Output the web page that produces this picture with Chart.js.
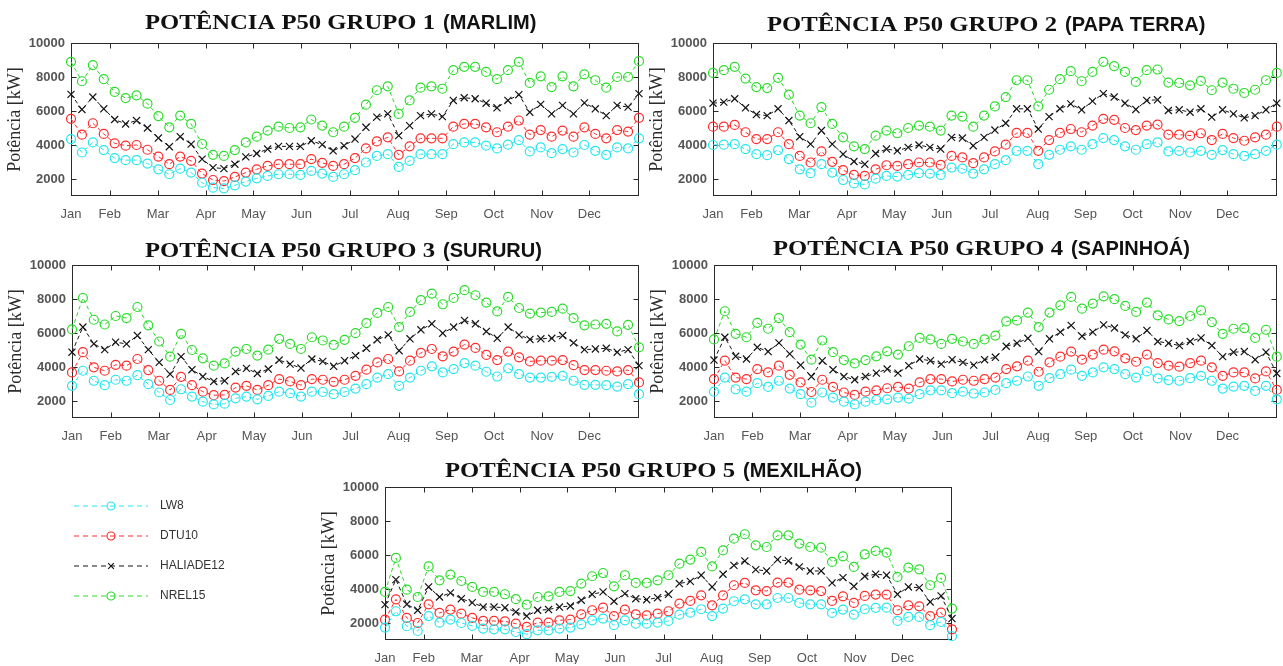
<!DOCTYPE html>
<html>
<head>
<meta charset="utf-8">
<script src="https://cdn.jsdelivr.net/npm/chart.js@4/dist/chart.umd.min.js"></script>
<style>
  body { margin: 0; background: #fff; }
  #wrap { position: relative; width: 1283px; height: 666px; overflow: hidden; }
  #wrap canvas { position: absolute; }
</style>
</head>
<body>
<div id="wrap">
  <canvas id="c1" width="650" height="225" style="left:0;top:0"></canvas>
  <canvas id="c2" width="641" height="225" style="left:642px;top:0"></canvas>
  <canvas id="c3" width="650" height="225" style="left:0;top:222px"></canvas>
  <canvas id="c4" width="640" height="225" style="left:643px;top:222px"></canvas>
  <canvas id="c5" width="960" height="222" style="left:0;top:444px"></canvas>
</div>
<script>
// ---- data (weekly P50 power, kW) ----
const months = ['Jan', 'Feb', 'Mar', 'Apr', 'May', 'Jun', 'Jul', 'Aug', 'Sep', 'Oct', 'Nov', 'Dec'];
const monthPos = [0, 3.55, 7.95, 12.35, 16.7, 21.1, 25.55, 29.95, 34.35, 38.7, 43.1, 47.45];
const yTicks = [2000, 4000, 6000, 8000, 10000];
const seriesNames = ['LW8', 'DTU10', 'HALIADE12', 'NREL15'];

// Grupo 1 (Marlim)
const lw8_g1 = [4350, 3560, 4150, 3700, 3230, 3110, 3110, 2910, 2570, 2280, 2610, 2380, 1780, 1490, 1450, 1630, 1850, 2040, 2180, 2280, 2280, 2240, 2480, 2320, 2120, 2280, 2520, 2970, 3360, 3460, 2710, 3070, 3460, 3460, 3460, 4050, 4150, 4150, 3960, 3800, 4020, 4290, 3620, 3860, 3520, 3760, 3560, 4000, 3660, 3420, 3860, 3800, 4390];
const dtu10_g1 = [5540, 4610, 5280, 4650, 4100, 3960, 4000, 3720, 3320, 2870, 3320, 3070, 2320, 1940, 1880, 2120, 2380, 2570, 2770, 2870, 2870, 2870, 3170, 2950, 2770, 2870, 3230, 3800, 4210, 4450, 3420, 3920, 4390, 4390, 4390, 5080, 5240, 5240, 5040, 4750, 5080, 5440, 4610, 4880, 4490, 4850, 4490, 5040, 4650, 4390, 4880, 4790, 5600];
const hal12_g1 = [6980, 6090, 6820, 6130, 5500, 5240, 5440, 5000, 4410, 3900, 4490, 4050, 3170, 2670, 2610, 2870, 3300, 3500, 3760, 3920, 3920, 3920, 4250, 4020, 3660, 3960, 4350, 5040, 5640, 5830, 4550, 5140, 5730, 5830, 5670, 6620, 6780, 6720, 6460, 6190, 6620, 6960, 5930, 6390, 5830, 6330, 5830, 6480, 6130, 5730, 6330, 6230, 7020];
const nrel15_g1 = [8890, 7750, 8700, 7870, 7120, 6760, 6920, 6430, 5700, 5040, 5730, 5240, 4060, 3420, 3360, 3700, 4150, 4490, 4850, 5080, 5000, 5040, 5500, 5140, 4750, 5080, 5600, 6370, 7220, 7450, 5830, 6620, 7370, 7450, 7310, 8400, 8600, 8600, 8300, 7870, 8400, 8890, 7650, 8040, 7410, 8040, 7450, 8160, 7810, 7370, 8000, 8000, 8930];

// Grupo 2 (Papa Terra)
const lw8_g2 = [4000, 4020, 4050, 3760, 3460, 3400, 3700, 3170, 2570, 2340, 2870, 2380, 1940, 1740, 1680, 2020, 2180, 2140, 2240, 2340, 2320, 2240, 2670, 2610, 2320, 2570, 2870, 3110, 3660, 3660, 2870, 3420, 3720, 3920, 3720, 4050, 4410, 4290, 3920, 3720, 4050, 4150, 3620, 3660, 3560, 3660, 3420, 3700, 3460, 3360, 3460, 3660, 4020];
const dtu10_g2 = [5080, 5080, 5180, 4750, 4350, 4350, 4750, 4050, 3360, 2970, 3620, 3010, 2520, 2240, 2180, 2570, 2810, 2770, 2870, 2970, 2970, 2830, 3360, 3270, 2930, 3270, 3620, 4020, 4710, 4710, 3660, 4290, 4710, 4940, 4750, 5140, 5540, 5480, 5000, 4880, 5140, 5200, 4610, 4610, 4550, 4690, 4290, 4650, 4410, 4250, 4450, 4610, 5080];
const hal12_g2 = [6460, 6520, 6720, 6190, 5790, 5730, 6130, 5440, 4490, 4050, 4850, 4050, 3460, 3030, 2870, 3500, 3760, 3660, 3860, 4000, 3860, 3760, 4450, 4410, 3960, 4450, 4880, 5280, 6130, 6130, 4940, 5670, 6130, 6420, 6070, 6580, 7020, 6820, 6460, 6090, 6620, 6660, 6030, 6070, 5930, 6130, 5640, 6070, 5830, 5600, 5730, 6070, 6460];
const nrel15_g2 = [8240, 8400, 8600, 7910, 7410, 7350, 7950, 6960, 5730, 5280, 6230, 5240, 4450, 3920, 3760, 4550, 4850, 4690, 5000, 5140, 5080, 4850, 5730, 5670, 5080, 5730, 6270, 6820, 7810, 7810, 6270, 7250, 7870, 8340, 7750, 8300, 8890, 8640, 8300, 7710, 8400, 8440, 7670, 7650, 7510, 7770, 7220, 7670, 7310, 7060, 7250, 7810, 8240];

// Grupo 3 (Sururu)
const lw8_g3 = [2890, 3780, 3190, 2930, 3250, 3190, 3520, 2990, 2500, 2060, 2690, 2260, 1960, 1800, 1840, 2160, 2260, 2100, 2300, 2550, 2460, 2260, 2550, 2530, 2400, 2530, 2730, 2990, 3380, 3580, 2890, 3380, 3780, 4040, 3680, 3880, 4230, 4080, 3720, 3440, 3920, 3580, 3380, 3380, 3420, 3480, 3190, 2950, 2950, 2930, 2850, 2990, 2400];
const dtu10_g3 = [3680, 4870, 3980, 3780, 4130, 4080, 4470, 3820, 3190, 2650, 3420, 2930, 2550, 2340, 2360, 2790, 2890, 2650, 2930, 3290, 3150, 2930, 3290, 3250, 3130, 3250, 3480, 3840, 4270, 4470, 3740, 4370, 4830, 5060, 4630, 4910, 5320, 5120, 4710, 4410, 4910, 4570, 4330, 4370, 4370, 4410, 4110, 3820, 3820, 3780, 3740, 3820, 3090];
const hal12_g3 = [4870, 6350, 5360, 5020, 5460, 5360, 5850, 5020, 4270, 3580, 4610, 3840, 3440, 3150, 3190, 3740, 3920, 3620, 3880, 4410, 4170, 3940, 4470, 4330, 4040, 4370, 4670, 5100, 5600, 5890, 4960, 5660, 6190, 6540, 5990, 6350, 6740, 6540, 6090, 5690, 6350, 5890, 5620, 5660, 5690, 5850, 5420, 5020, 5060, 5100, 4870, 5020, 4080];
const nrel15_g3 = [6210, 8060, 6780, 6500, 7000, 6880, 7530, 6450, 5500, 4610, 5950, 5000, 4510, 4080, 4210, 4910, 5060, 4670, 5020, 5660, 5360, 5060, 5750, 5560, 5300, 5600, 5990, 6580, 7180, 7530, 6350, 7240, 7930, 8320, 7690, 8060, 8520, 8220, 7790, 7270, 8120, 7470, 7140, 7200, 7240, 7430, 6880, 6450, 6500, 6540, 6090, 6480, 5160];

// Grupo 4 (Sapinhoá)
const lw8_g4 = [2550, 3380, 2690, 2550, 3050, 2830, 3190, 2730, 2400, 1900, 2500, 2200, 1960, 1800, 1960, 2060, 2100, 2200, 2140, 2400, 2630, 2630, 2460, 2550, 2440, 2500, 2650, 3050, 3190, 3440, 2890, 3340, 3580, 3840, 3480, 3680, 3980, 3880, 3580, 3380, 3740, 3330, 3230, 3190, 3340, 3480, 3190, 2730, 2850, 2890, 2590, 2890, 2100];
const dtu10_g4 = [3290, 4370, 3380, 3290, 3880, 3680, 4080, 3540, 3090, 2530, 3250, 2830, 2500, 2360, 2550, 2630, 2750, 2830, 2730, 3090, 3290, 3290, 3150, 3250, 3190, 3290, 3380, 3880, 4040, 4370, 3720, 4270, 4610, 4910, 4430, 4730, 5020, 4920, 4510, 4310, 4730, 4230, 4080, 4020, 4230, 4370, 3980, 3480, 3680, 3680, 3330, 3740, 2650];
const hal12_g4 = [4410, 5750, 4630, 4470, 5160, 4910, 5420, 4770, 4110, 3440, 4370, 3840, 3440, 3250, 3440, 3640, 3880, 3640, 4080, 4470, 4370, 4170, 4430, 4270, 4110, 4430, 4570, 5220, 5400, 5690, 4910, 5660, 6050, 6450, 5810, 6050, 6480, 6290, 5890, 5660, 6150, 5500, 5400, 5260, 5500, 5710, 5260, 4610, 4870, 4910, 4430, 4870, 3620];
const nrel15_g4 = [5620, 7280, 5950, 5750, 6600, 6250, 6880, 6050, 5320, 4430, 5560, 4870, 4410, 4210, 4410, 4630, 4920, 4730, 5220, 5710, 5620, 5360, 5660, 5500, 5360, 5620, 5850, 6680, 6740, 7200, 6350, 7200, 7630, 8120, 7430, 7730, 8160, 7990, 7590, 7240, 7790, 7040, 6800, 6700, 7000, 7330, 6640, 5950, 6250, 6290, 5710, 6190, 4610];

// Grupo 5 (Mexilhão)
const lw8_g5 = [1730, 2690, 1810, 1530, 2410, 2020, 2200, 2000, 1830, 1670, 1630, 1630, 1470, 1340, 1570, 1570, 1670, 1730, 1920, 2160, 2260, 1870, 2160, 1960, 1960, 2020, 2120, 2490, 2610, 2810, 2410, 2850, 3280, 3390, 3100, 3100, 3470, 3470, 3180, 3100, 3100, 2590, 2790, 2490, 2810, 2890, 2900, 2120, 2360, 2360, 1870, 2060, 1220];
const dtu10_g5 = [2200, 3390, 2300, 2000, 3100, 2590, 2790, 2550, 2300, 2120, 2120, 2100, 1960, 1770, 2020, 2020, 2160, 2200, 2510, 2750, 2900, 2410, 2790, 2510, 2450, 2550, 2690, 3140, 3300, 3630, 3040, 3630, 4220, 4360, 3920, 3880, 4380, 4380, 3960, 3920, 3880, 3300, 3570, 3180, 3590, 3670, 3670, 2750, 3040, 2980, 2410, 2610, 1630];
const hal12_g5 = [3080, 4550, 3100, 2750, 4120, 3530, 3770, 3430, 3200, 2940, 2940, 2900, 2650, 2410, 2750, 2790, 2940, 3000, 3340, 3690, 3830, 3280, 3730, 3430, 3370, 3490, 3690, 4320, 4450, 4810, 4120, 4870, 5390, 5650, 5140, 5060, 5730, 5650, 5300, 5060, 5060, 4360, 4670, 4160, 4750, 4870, 4810, 3690, 4120, 4080, 3240, 3590, 2260];
const nrel15_g5 = [3830, 5830, 3960, 3530, 5330, 4510, 4850, 4470, 4120, 3830, 3830, 3690, 3400, 3080, 3530, 3570, 3830, 3880, 4320, 4750, 4940, 4160, 4810, 4360, 4360, 4510, 4810, 5490, 5730, 6180, 5330, 6270, 6960, 7220, 6570, 6470, 7160, 7160, 6670, 6470, 6430, 5590, 5920, 5300, 6040, 6240, 6140, 4710, 5260, 5160, 4220, 4650, 2850];

// ---- styling ----
const colors = ['#22e6ee', '#ff2a2a', '#151515', '#2bdc2b'];
const markers = ['circle', 'circle', 'crossRot', 'circle'];
const serifFont = '"Liberation Serif", "Times New Roman", serif';
const sansFont = '"Liberation Sans", Arial, sans-serif';
const titleSerifWidth = 290;

const panels = [
  { id: 'c1', groups: [lw8_g1, dtu10_g1, hal12_g1, nrel15_g1], pad: { left: 0, right: 11, top: 43, bottom: 5 },
    title: { x: 145, y: 29, serif: 'POTÊNCIA P50 GRUPO 1', sans: '(MARLIM)' } },
  { id: 'c2', groups: [lw8_g2, dtu10_g2, hal12_g2, nrel15_g2], pad: { left: 0, right: 4, top: 43, bottom: 5 },
    title: { x: 125, y: 31, serif: 'POTÊNCIA P50 GRUPO 2', sans: '(PAPA TERRA)' } },
  { id: 'c3', groups: [lw8_g3, dtu10_g3, hal12_g3, nrel15_g3], pad: { left: 1, right: 11, top: 43, bottom: 5 },
    title: { x: 145, y: 35, serif: 'POTÊNCIA P50 GRUPO 3', sans: '(SURURU)' } },
  { id: 'c4', groups: [lw8_g4, dtu10_g4, hal12_g4, nrel15_g4], pad: { left: 0, right: 5, top: 43, bottom: 5 },
    title: { x: 130, y: 33, serif: 'POTÊNCIA P50 GRUPO 4', sans: '(SAPINHOÁ)' } },
  { id: 'c5', groups: [lw8_g5, dtu10_g5, hal12_g5, nrel15_g5], pad: { left: 314, right: 8, top: 43, bottom: 2 },
    title: { x: 445, y: 33, serif: 'POTÊNCIA P50 GRUPO 5', sans: '(MEXILHÃO)' },
    legend: { left: 74, right: 148, textX: 160, top: 62, gap: 30 } }
];

// box around the plot with inward tick marks (matlab style)
const frame = {
  id: 'frame',
  beforeDatasetsDraw(chart) {
    const { ctx, chartArea: a, scales: { x, y } } = chart;
    const L = Math.round(a.left) + 0.5, R = Math.round(a.right) - 0.5;
    const T = Math.round(a.top) + 0.5, B = Math.round(a.bottom) - 0.5;
    ctx.save();
    ctx.strokeStyle = '#2a2a2a';
    ctx.lineWidth = 1;
    ctx.strokeRect(L, T, R - L, B - T);
    ctx.beginPath();
    x.ticks.forEach(t => {
      const px = Math.round(x.getPixelForValue(t.value)) + 0.5;
      ctx.moveTo(px, B); ctx.lineTo(px, B - 5);
      ctx.moveTo(px, T); ctx.lineTo(px, T + 5);
    });
    y.ticks.forEach(t => {
      const py = Math.round(y.getPixelForValue(t.value)) + 0.5;
      ctx.moveTo(L, py); ctx.lineTo(L + 5, py);
      ctx.moveTo(R, py); ctx.lineTo(R - 5, py);
    });
    ctx.stroke();
    ctx.restore();
  }
};

// two-font title: serif part + sans part
const panelTitle = {
  id: 'panelTitle',
  afterDraw(chart, args, opts) {
    if (!opts.serif) return;
    const ctx = chart.ctx;
    ctx.save();
    ctx.fillStyle = '#111';
    ctx.textBaseline = 'alphabetic';
    ctx.font = 'bold 22px ' + serifFont;
    const w = ctx.measureText(opts.serif).width;
    ctx.translate(opts.x, opts.y);
    ctx.scale(titleSerifWidth / w, 1);
    ctx.fillText(opts.serif, 0, 0);
    ctx.restore();
    ctx.save();
    ctx.fillStyle = '#111';
    ctx.font = 'bold 20px ' + sansFont;
    ctx.fillText(opts.sans, opts.x + titleSerifWidth + 8, opts.y);
    ctx.restore();
  }
};

// legend block drawn to the left of the last panel
const sideLegend = {
  id: 'sideLegend',
  afterDraw(chart, args, o) {
    if (!o.show) return;
    const ctx = chart.ctx;
    chart.data.datasets.forEach((ds, k) => {
      const y = o.top + k * o.gap;
      ctx.save();
      ctx.strokeStyle = ds.borderColor;
      ctx.lineWidth = 1;
      ctx.setLineDash([5, 4]);
      ctx.beginPath();
      ctx.moveTo(o.left, y);
      ctx.lineTo(o.right, y);
      ctx.stroke();
      ctx.setLineDash([]);
      ctx.fillStyle = 'rgba(0,0,0,0)';
      ctx.lineWidth = 1.2;
      Chart.helpers.drawPoint(ctx, { pointStyle: ds.pointStyle, radius: 4, borderWidth: 1.2, rotation: 0 }, (o.left + o.right) / 2, y);
      ctx.fillStyle = '#333';
      ctx.font = '12px ' + sansFont;
      ctx.textBaseline = 'middle';
      ctx.fillText(ds.label, o.textX, y);
      ctx.restore();
    });
  }
};

function makeDataset(k, values) {
  return {
    label: seriesNames[k],
    data: values.map((v, i) => ({ x: i, y: v })),
    borderColor: colors[k],
    backgroundColor: 'rgba(0,0,0,0)',
    borderWidth: 1,
    borderDash: [4, 3],
    pointStyle: markers[k],
    pointRadius: markers[k] === 'crossRot' ? 5 : 4.5,
    pointBorderWidth: 1.2,
    pointBorderColor: colors[k],
    pointBackgroundColor: 'rgba(0,0,0,0)',
    tension: 0,
    fill: false,
    clip: false
  };
}

function buildPanel(p) {
  new Chart(document.getElementById(p.id), {
    type: 'line',
    data: { datasets: p.groups.map((vals, k) => makeDataset(k, vals)) },
    options: {
      responsive: false,
      animation: false,
      devicePixelRatio: 1,
      layout: { padding: p.pad },
      scales: {
        x: {
          type: 'linear', min: 0, max: 52,
          grid: { display: false, drawTicks: false },
          border: { display: false },
          afterBuildTicks: s => { s.ticks = monthPos.map(v => ({ value: v })); },
          afterFit: s => { s.height = 24; },
          ticks: {
            autoSkip: false, maxRotation: 0, padding: 11,
            color: '#555',
            font: { family: sansFont, size: 13 },
            callback: (v, i) => months[i]
          }
        },
        y: {
          min: 1000, max: 10000,
          grid: { display: false, drawTicks: false },
          border: { display: false },
          afterBuildTicks: s => { s.ticks = yTicks.map(v => ({ value: v })); },
          afterFit: s => { s.width = 71; },
          ticks: {
            padding: 6, color: '#555',
            font: { family: sansFont, size: 13, weight: 'bold' },
            callback: v => String(v)
          },
          title: {
            display: true, text: 'Potência [kW]', color: '#2b2b2b',
            font: { family: serifFont, size: 18 },
            padding: { top: 4, bottom: 0 }
          }
        }
      },
      plugins: {
        legend: { display: false },
        tooltip: { enabled: false },
        panelTitle: p.title,
        sideLegend: Object.assign({ show: !!p.legend }, p.legend || {})
      }
    },
    plugins: [frame, panelTitle, sideLegend]
  });
}

panels.forEach(buildPanel);
</script>
</body>
</html>
